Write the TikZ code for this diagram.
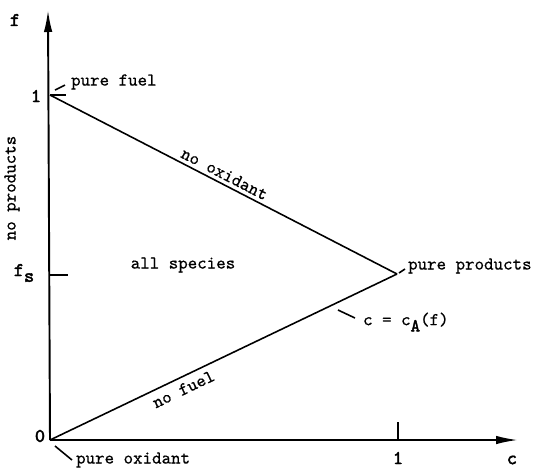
\documentclass[tikz,border=0pt]{standalone}
\usepackage{fontspec}
\setmonofont{Latin Modern Mono}[FakeBold=0.6,BoldFont=Latin Modern Mono,BoldFeatures={FakeBold=2.2}]
\usepackage{tikz}
\usetikzlibrary{arrows.meta,positioning,calc}

\begin{document}
\begin{tikzpicture}[
  x=0.02cm,y=-0.02cm,
  every node/.style={font=\ttfamily\fontsize{10.3}{12}\selectfont,inner sep=1pt},
  axis/.style={line width=1.1pt,-{Latex[length=4.4mm,width=1.7mm]}},
  boundary/.style={line width=0.9pt},
  tickmark/.style={line width=0.9pt},
  leader/.style={line width=0.9pt},
  axlabel/.style={font=\ttfamily\bfseries\fontsize{11}{12}\selectfont}
]
\useasboundingbox (0,0) rectangle (540,468);

% corner points of the mixture triangle
\coordinate (O) at (50,440);
\coordinate (F) at (50,95);
\coordinate (P) at (397,274);
\coordinate (Fs) at (50,275);
\coordinate (Cone) at (398,440);
\coordinate (fTop) at (48,10);
\coordinate (cEnd) at (518,440);

% axes
\draw[axis] (O) -- (fTop);
\draw[axis] (O) -- (cEnd);

% ticks
\draw[tickmark] (F) -- ++(16,0);
\draw[tickmark] (Fs) -- ++(18,0);
\draw[tickmark] (Cone) -- ++(0,-18);

% axis labels
\node[axlabel] (fLab) at (15,20) {f};
\node[axlabel] (oneF) at (36,96) {1};
\node[axlabel] (fsLab) at (24,273) {f\raisebox{-0.7ex}{s}};
\node[axlabel] (zeroLab) at (40,436) {0};
\node[axlabel] (oneC) at (398,458) {1};
\node[axlabel] (cLab) at (512,460) {c};

% boundaries of the triangle
\draw[boundary] (F) -- node[pos=0.49,sloped,above=1pt] (noOx) {no oxidant} (P);
\draw[boundary] (O) -- node[pos=0.37,sloped,below=2pt] (noFuel) {no fuel} (P);
\node[rotate=90] (noProd) at (12,188) {no products};
\node (allSp) at (183,265) {all species};

% corner labels with leaders
\node[anchor=west] (fuelLab) at (69,82) {pure fuel};
\coordinate (fuelA) at (55,90);
\coordinate (fuelB) at (65,85);
\draw[leader] (fuelA) -- (fuelB);

\node[anchor=west] (oxLab) at (74,460) {pure oxidant};
\coordinate (oxA) at (55,446);
\coordinate (oxB) at (72,460);
\draw[leader] (oxA) -- (oxB);

\node[anchor=west] (prodLab) at (406,266) {pure products};
\coordinate (prodA) at (399,273);
\coordinate (prodB) at (405,269);
\draw[leader] (prodA) -- (prodB);

\node[anchor=west] (cALab) at (361,322) {c = c\raisebox{-0.8ex}{\bfseries A}(f)};
\coordinate (cAA) at (338,310);
\coordinate (cAB) at (355,318);
\draw[leader] (cAA) -- (cAB);

\end{tikzpicture}
\end{document}
